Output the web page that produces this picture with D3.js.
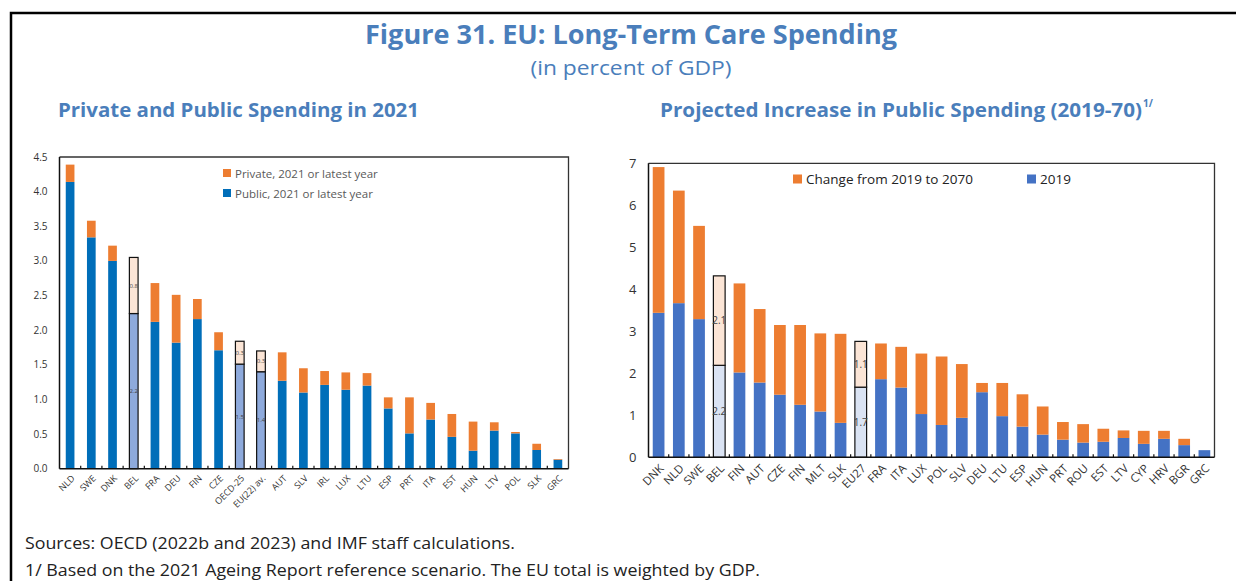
<!DOCTYPE html>
<html>
<head>
<meta charset="utf-8">
<script src="https://cdn.jsdelivr.net/npm/d3@7"></script>
<style>
  body { margin: 0; background: #fff; }
  text { font-family: "Open Sans", "Noto Sans", sans-serif; }
</style>
</head>
<body>
<div id="chart"></div>
<script>
// left panel: private and public spending 2021
var leftCats = ["NLD","SWE","DNK","BEL","FRA","DEU","FIN","CZE","OECD-25","EU(22) av.","AUT","SLV","IRL","LUX","LTU","ESP","PRT","ITA","EST","HUN","LTV","POL","SLK","GRC"];
var leftPublic  = [4.14,3.34,3.00,2.24,2.12,1.82,2.16,1.71,1.51,1.40,1.27,1.10,1.21,1.14,1.20,0.87,0.51,0.71,0.46,0.26,0.55,0.51,0.27,0.13];
var leftPrivate = [0.25,0.24,0.22,0.81,0.56,0.69,0.29,0.26,0.33,0.30,0.41,0.35,0.20,0.25,0.18,0.16,0.52,0.24,0.33,0.42,0.12,0.02,0.09,0.01];
var leftHighlight = ["BEL","OECD-25","EU(22) av."];
var leftTicks = [0,0.5,1,1.5,2,2.5,3,3.5,4,4.5];

// right panel: projected increase in public spending 2019-70
var rightCats = ["DNK","NLD","SWE","BEL","FIN","AUT","CZE","FIN","MLT","SLK","EU27","FRA","ITA","LUX","POL","SLV","DEU","LTU","ESP","HUN","PRT","ROU","EST","LTV","CYP","HRV","BGR","GRC"];
var right2019   = [3.44,3.67,3.29,2.19,2.02,1.78,1.49,1.25,1.09,0.82,1.67,1.86,1.66,1.03,0.77,0.94,1.55,0.98,0.73,0.54,0.42,0.35,0.37,0.46,0.32,0.44,0.29,0.17];
var rightChange = [3.47,2.68,2.22,2.13,2.12,1.75,1.66,1.90,1.86,2.12,1.09,0.85,0.97,1.44,1.63,1.28,0.22,0.79,0.77,0.67,0.42,0.44,0.31,0.18,0.31,0.19,0.15,0.00];
var rightHighlight = ["BEL","EU27"];
var rightTicks = [0,1,2,3,4,5,6,7];

var W = 1236, H = 581;
var titleColor = "#4a7ebb";
var orange = "#ed7d31";

var svg = d3.select("#chart").append("svg")
    .attr("width", W)
    .attr("height", H);

// outer frame
svg.append("path")
    .attr("d", "M11," + H + "V13H" + W)
    .attr("fill", "none")
    .attr("stroke", "#000")
    .attr("stroke-width", 2.5);

// titles
svg.append("text")
    .attr("x", 631).attr("y", 44)
    .attr("text-anchor", "middle")
    .attr("font-size", 26).attr("font-weight", "bold")
    .attr("textLength", 532).attr("lengthAdjust", "spacingAndGlyphs")
    .attr("fill", titleColor)
    .text("Figure 31. EU: Long-Term Care Spending");

svg.append("text")
    .attr("x", 631).attr("y", 75)
    .attr("text-anchor", "middle")
    .attr("font-size", 20)
    .attr("textLength", 201).attr("lengthAdjust", "spacingAndGlyphs")
    .attr("fill", titleColor)
    .text("(in percent of GDP)");

svg.append("text")
    .attr("x", 58).attr("y", 117)
    .attr("font-size", 19).attr("font-weight", "bold")
    .attr("textLength", 361).attr("lengthAdjust", "spacingAndGlyphs")
    .attr("fill", titleColor)
    .text("Private and Public Spending in 2021");

svg.append("text")
    .attr("x", 660).attr("y", 117)
    .attr("font-size", 19).attr("font-weight", "bold")
    .attr("textLength", 482).attr("lengthAdjust", "spacingAndGlyphs")
    .attr("fill", titleColor)
    .text("Projected Increase in Public Spending (2019-70)");

svg.append("text")
    .attr("x", 1143).attr("y", 107)
    .attr("font-size", 10).attr("font-weight", "bold")
    .attr("fill", titleColor)
    .text("1/");

// footnotes
svg.append("text")
    .attr("x", 25).attr("y", 549)
    .attr("font-size", 16)
    .attr("textLength", 490).attr("lengthAdjust", "spacingAndGlyphs")
    .attr("fill", "#222")
    .text("Sources: OECD (2022b and 2023) and IMF staff calculations.");

svg.append("text")
    .attr("x", 25).attr("y", 576)
    .attr("font-size", 16)
    .attr("textLength", 735).attr("lengthAdjust", "spacingAndGlyphs")
    .attr("fill", "#222")
    .text("1/ Based on the 2021 Ageing Report reference scenario. The EU total is weighted by GDP.");

function drawPanel(opt) {
    var g = svg.append("g");
    var x = d3.scaleBand()
        .domain(d3.range(opt.cats.length))
        .range([opt.left, opt.right])
        .paddingInner(opt.pad)
        .paddingOuter(opt.pad / 2);
    var y = d3.scaleLinear()
        .domain([0, opt.ymax])
        .range([opt.bottom, opt.top]);

    // frame top/right
    g.append("path")
        .attr("d", "M" + opt.left + "," + opt.top + "H" + opt.right + "V" + opt.bottom)
        .attr("fill", "none")
        .attr("stroke", "#333")
        .attr("stroke-width", 1.3);

    // y labels
    g.selectAll(".ytick")
        .data(opt.ticks)
        .enter().append("text")
        .attr("x", opt.left - opt.ylabOff)
        .attr("y", function(d){ return y(d); })
        .attr("dy", "0.35em")
        .attr("text-anchor", "end")
        .attr("font-size", opt.yfont)
        .attr("fill", "#333")
        .text(opt.yfmt);

    var data = opt.cats.map(function(c, i){
        return {cat: c, i: i, base: opt.base[i], top: opt.top2[i],
                hi: opt.highlight.indexOf(c) >= 0};
    });

    var bars = g.selectAll(".bar").data(data).enter().append("g");

    bars.append("rect")
        .attr("x", function(d){ return x(d.i); })
        .attr("width", x.bandwidth())
        .attr("y", function(d){ return y(d.base); })
        .attr("height", function(d){ return y(0) - y(d.base); })
        .attr("fill", function(d){ return d.hi ? opt.baseHi : opt.baseColor; })
        .attr("stroke", function(d){ return d.hi ? "#111" : "none"; })
        .attr("stroke-width", 1.2);

    bars.append("rect")
        .attr("x", function(d){ return x(d.i); })
        .attr("width", x.bandwidth())
        .attr("y", function(d){ return y(d.base + d.top); })
        .attr("height", function(d){ return y(0) - y(d.top); })
        .attr("fill", function(d){ return d.hi ? opt.topHi : orange; })
        .attr("stroke", function(d){ return d.hi ? "#111" : "none"; })
        .attr("stroke-width", 1.2);

    // value labels inside highlighted bars
    var hi = data.filter(function(d){ return d.hi; });
    g.selectAll(".vb").data(hi).enter().append("text")
        .attr("x", function(d){ return x(d.i) + x.bandwidth() / 2; })
        .attr("y", function(d){ return y(d.base / 2); })
        .attr("dy", "0.35em")
        .attr("text-anchor", "middle")
        .attr("font-size", opt.vfont)
        .attr("fill", "#444")
        .text(function(d){ return d3.format(".1f")(d.base); });
    g.selectAll(".vt").data(hi).enter().append("text")
        .attr("x", function(d){ return x(d.i) + x.bandwidth() / 2; })
        .attr("y", function(d){ return y(d.base + d.top / 2); })
        .attr("dy", "0.35em")
        .attr("text-anchor", "middle")
        .attr("font-size", opt.vfont)
        .attr("fill", "#444")
        .text(function(d){ return d3.format(".1f")(d.top); });

    // axes lines
    g.append("line")
        .attr("x1", opt.left).attr("x2", opt.left)
        .attr("y1", opt.top).attr("y2", opt.bottom)
        .attr("stroke", "#111").attr("stroke-width", 1.5);
    g.append("line")
        .attr("x1", opt.left).attr("x2", opt.right)
        .attr("y1", opt.bottom).attr("y2", opt.bottom)
        .attr("stroke", "#111").attr("stroke-width", 1.5);

    // tick marks between categories
    var gap = x.step() - x.bandwidth();
    g.selectAll(".xtick").data(d3.range(1, opt.cats.length)).enter().append("line")
        .attr("x1", function(i){ return x(i) - gap / 2; })
        .attr("x2", function(i){ return x(i) - gap / 2; })
        .attr("y1", opt.bottom).attr("y2", opt.bottom - 3)
        .attr("stroke", "#111").attr("stroke-width", 1.2);

    // x labels
    g.selectAll(".xl").data(data).enter().append("text")
        .attr("transform", function(d){
            return "translate(" + (x(d.i) + x.bandwidth() / 2 + 3) + "," + (opt.bottom + opt.xlabOff) + ") rotate(-45)";
        })
        .attr("text-anchor", "end")
        .attr("dy", "0.35em")
        .attr("font-size", opt.xfont)
        .attr("fill", "#333")
        .text(function(d){ return d.cat; });

    // legend
    var lg = g.selectAll(".lg").data(opt.legend).enter().append("g")
        .attr("transform", function(d){ return "translate(" + d.x + "," + d.y + ")"; });
    lg.append("rect")
        .attr("x", 0).attr("y", -opt.lsize / 2 - 1)
        .attr("width", opt.lsize).attr("height", opt.lsize)
        .attr("fill", function(d){ return d.color; });
    lg.append("text")
        .attr("x", opt.lsize + 4)
        .attr("y", 0)
        .attr("dy", "0.32em")
        .attr("font-size", opt.lfont)
        .attr("fill", opt.lcolor)
        .text(function(d){ return d.label; });
}

drawPanel({
    cats: leftCats, base: leftPublic, top2: leftPrivate, highlight: leftHighlight,
    ticks: leftTicks, ymax: 4.5,
    left: 59.5, right: 568.5, top: 157, bottom: 468.7, pad: 0.59,
    baseColor: "#006eb9", baseHi: "#8eaadc", topHi: "#fbe5d6",
    yfont: 10, ylabOff: 12, yfmt: d3.format(".1f"),
    xfont: 9, xlabOff: 8, vfont: 6,
    legend: [
        {x: 223, y: 174, color: orange, label: "Private, 2021 or latest year"},
        {x: 223, y: 194, color: "#006eb9", label: "Public, 2021 or latest year"}
    ],
    lsize: 8, lfont: 11.5, lcolor: "#595959"
});

drawPanel({
    cats: rightCats, base: right2019, top2: rightChange, highlight: rightHighlight,
    ticks: rightTicks, ymax: 7,
    left: 648.5, right: 1214.5, top: 163.3, bottom: 457.3, pad: 0.42,
    baseColor: "#4472c4", baseHi: "#dae3f3", topHi: "#fbe5d6",
    yfont: 13, ylabOff: 12, yfmt: d3.format("d"),
    xfont: 11.5, xlabOff: 9, vfont: 10,
    legend: [
        {x: 793, y: 180, color: orange, label: "Change from 2019 to 2070"},
        {x: 1027, y: 180, color: "#4472c4", label: "2019"}
    ],
    lsize: 9, lfont: 13.5, lcolor: "#222"
});
</script>
</body>
</html>
